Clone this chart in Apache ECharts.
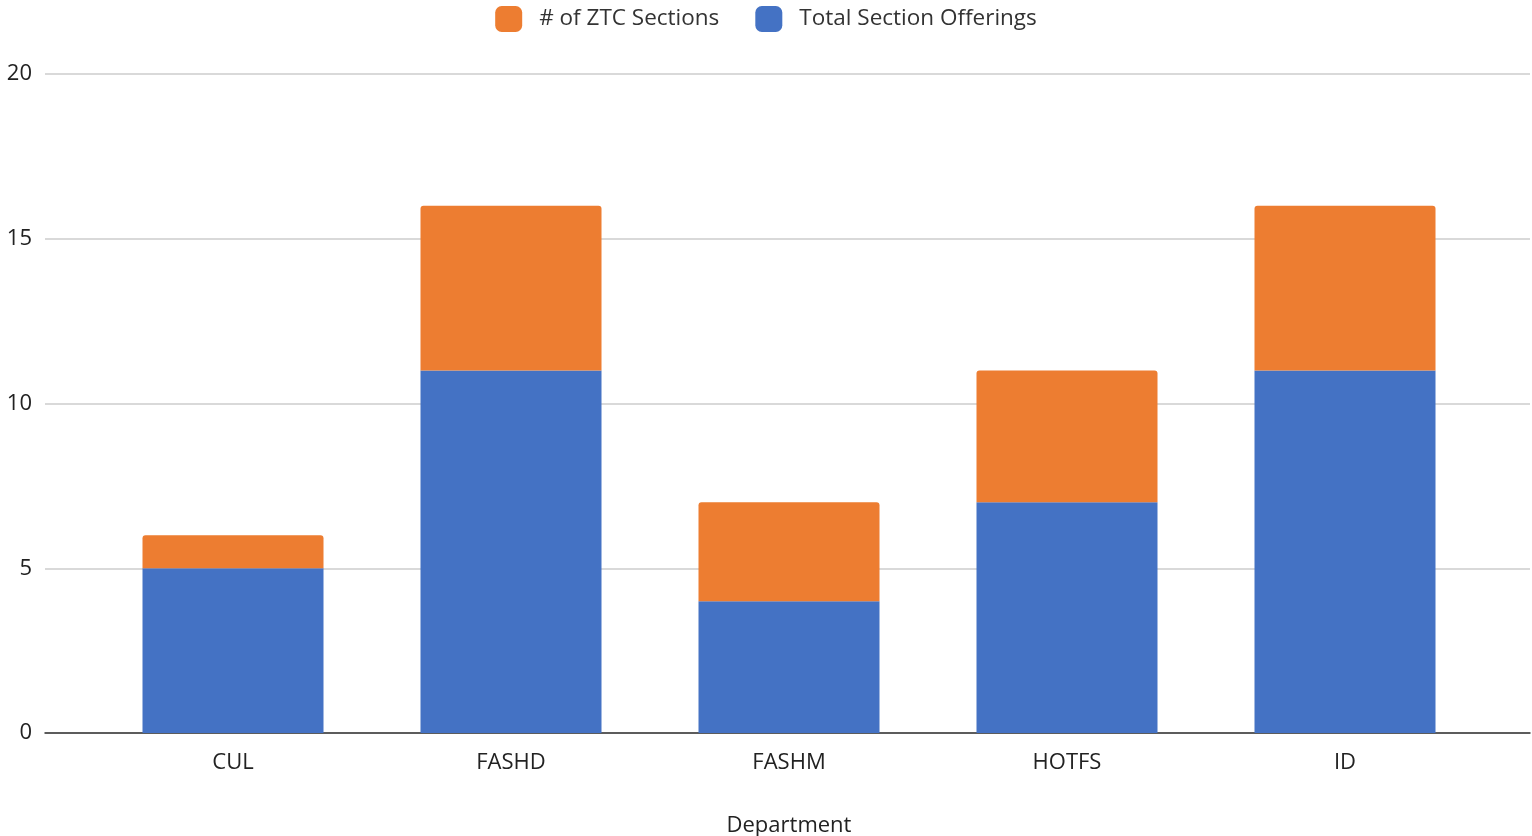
<!DOCTYPE html>
<html>
<head>
<meta charset="utf-8">
<script src="https://cdn.jsdelivr.net/npm/echarts@6/dist/echarts.min.js"></script>
<style>html,body{margin:0;padding:0;background:#fff}#c{width:1532px;height:836px}</style>
</head>
<body>
<div id="c"></div>
<script>
const categories = ['CUL', 'FASHD', 'FASHM', 'HOTFS', 'ID'];
const totalSectionOfferings = [5, 11, 4, 7, 11];
const ztcSections = [1, 5, 3, 4, 5];
const seriesNames = ['# of ZTC Sections', 'Total Section Offerings'];

const font = '"Open Sans", "Noto Sans", sans-serif';
const chart = echarts.init(document.getElementById('c'));
chart.setOption({
  animation: false,
  backgroundColor: '#fff',
  legend: {
    data: seriesNames,
    top: 1,
    left: 'center',
    itemWidth: 27,
    itemHeight: 26,
    itemGap: 36,
    icon: 'roundRect',
    textStyle: { fontFamily: font, fontSize: 22.5, color: '#333', padding: [0, 0, 0, 12] }
  },
  grid: [
    { left: 45, right: 2, top: 74, bottom: 103, outerBoundsMode: 'none', containLabel: false },
    { left: 94, right: 48, top: 74, bottom: 103, outerBoundsMode: 'none', containLabel: false }
  ],
  xAxis: [
    { gridIndex: 0, type: 'value', min: 0, max: 1, show: true,
      axisLabel: { show: false }, axisTick: { show: false }, splitLine: { show: false },
      axisLine: { show: true, onZero: false, lineStyle: { color: '#333', width: 1.5 } } },
    { gridIndex: 1, type: 'category', data: categories,
      axisLine: { show: false }, axisTick: { show: false },
      axisLabel: { margin: 19, fontFamily: font, fontSize: 22, color: '#222' },
      name: 'Department', nameLocation: 'middle', nameGap: 82,
      nameTextStyle: { fontFamily: font, fontSize: 22, color: '#222' } }
  ],
  yAxis: [
    { gridIndex: 0, type: 'value', min: 0, max: 20, interval: 5,
      axisLine: { show: false }, axisTick: { show: false },
      axisLabel: { margin: 13, fontFamily: font, fontSize: 22, color: '#222' },
      splitLine: { lineStyle: { color: '#ccc', width: 1.5 } } },
    { gridIndex: 1, type: 'value', min: 0, max: 20, interval: 5, show: false,
      splitLine: { show: false } }
  ],
  series: [
    { name: 'Total Section Offerings', type: 'bar', stack: 's', xAxisIndex: 1, yAxisIndex: 1,
      barWidth: 181, data: totalSectionOfferings, itemStyle: { color: '#4472C4' } },
    { name: '# of ZTC Sections', type: 'bar', stack: 's', xAxisIndex: 1, yAxisIndex: 1,
      barWidth: 181, data: ztcSections, itemStyle: { color: '#ED7D31', borderRadius: [3, 3, 0, 0] } }
  ]
});
</script>
</body>
</html>
